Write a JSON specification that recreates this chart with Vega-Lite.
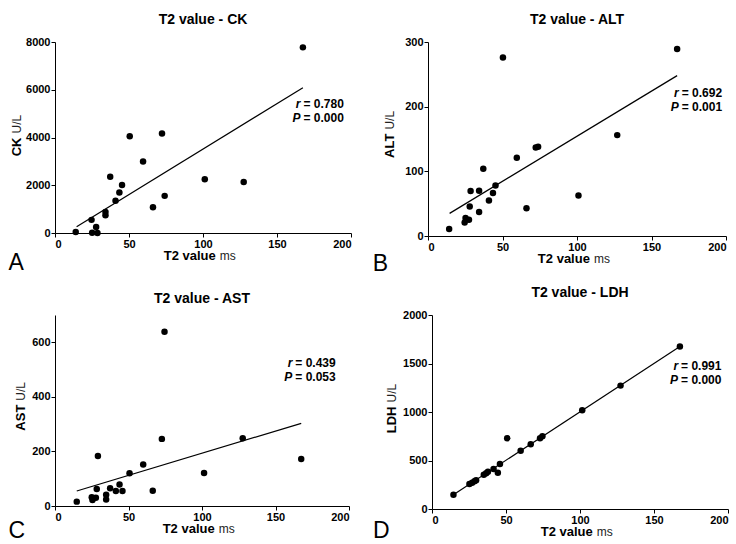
{
  "$schema": "https://vega.github.io/schema/vega-lite/v6.json",
  "background": "white",
  "padding": {"left": 8, "top": 13, "right": 0, "bottom": 0},
  "config": {
    "font": "Liberation Sans",
    "view": {"stroke": null},
    "axis": {"grid": false, "domainColor": "black", "domainWidth": 1, "tickColor": "black", "tickSize": 4, "labelColor": "black", "labelFontSize": 11, "labelFontWeight": "bold", "labelPadding": 1, "labelFont": "Liberation Sans"},
    "title": {"font": "Liberation Sans", "fontSize": 14, "fontWeight": "bold", "color": "black", "offset": 9},
    "text": {"color": "black", "baseline": "middle"}
  },
  "datasets": {
    "ck": [
      {"t2": 14, "value": 42}, {"t2": 24.7, "value": 550}, {"t2": 25.1, "value": 15}, {"t2": 27.8, "value": 255}, {"t2": 28.7, "value": 0},
      {"t2": 34.1, "value": 885}, {"t2": 34.1, "value": 745}, {"t2": 37.3, "value": 2360}, {"t2": 40.9, "value": 1350}, {"t2": 43.5, "value": 1700},
      {"t2": 45.3, "value": 2010}, {"t2": 50.5, "value": 4055}, {"t2": 59.5, "value": 2990}, {"t2": 66.2, "value": 1080}, {"t2": 72.3, "value": 4165},
      {"t2": 74.1, "value": 1555}, {"t2": 101.2, "value": 2250}, {"t2": 127.5, "value": 2140}, {"t2": 167.5, "value": 7775}
    ],
    "ck_fit": [{"t2": 14.6, "value": 266}, {"t2": 167.5, "value": 6084}],
    "alt": [
      {"t2": 14.2, "value": 11}, {"t2": 24.6, "value": 21}, {"t2": 25.2, "value": 28}, {"t2": 27.5, "value": 25}, {"t2": 28, "value": 45.7},
      {"t2": 28.6, "value": 69.5}, {"t2": 34.3, "value": 70}, {"t2": 34.3, "value": 37}, {"t2": 37.1, "value": 104}, {"t2": 40.9, "value": 55},
      {"t2": 43.6, "value": 66.5}, {"t2": 45.3, "value": 78}, {"t2": 50.3, "value": 276}, {"t2": 59.6, "value": 121}, {"t2": 66.1, "value": 43},
      {"t2": 72.3, "value": 137}, {"t2": 73.9, "value": 138}, {"t2": 101, "value": 62.6}, {"t2": 127, "value": 156}, {"t2": 167.2, "value": 289}
    ],
    "alt_fit": [{"t2": 14.5, "value": 35}, {"t2": 167.2, "value": 248}],
    "ast": [
      {"t2": 14.8, "value": 16}, {"t2": 25, "value": 32}, {"t2": 25.5, "value": 22}, {"t2": 27.8, "value": 30}, {"t2": 28.4, "value": 62},
      {"t2": 29.2, "value": 183}, {"t2": 34.8, "value": 41}, {"t2": 34.8, "value": 24}, {"t2": 37.5, "value": 65}, {"t2": 41.4, "value": 55},
      {"t2": 43.9, "value": 79}, {"t2": 45.9, "value": 55}, {"t2": 50.7, "value": 120}, {"t2": 60, "value": 152}, {"t2": 66.5, "value": 56},
      {"t2": 72.7, "value": 246}, {"t2": 74.5, "value": 639}, {"t2": 101.4, "value": 121}, {"t2": 127.7, "value": 248}, {"t2": 167.5, "value": 172}
    ],
    "ast_fit": [{"t2": 14.8, "value": 55}, {"t2": 167.5, "value": 303}],
    "ldh": [
      {"t2": 14.5, "value": 148}, {"t2": 25.3, "value": 258}, {"t2": 27.1, "value": 271}, {"t2": 28.7, "value": 285}, {"t2": 29.8, "value": 296},
      {"t2": 35, "value": 354}, {"t2": 36.6, "value": 368}, {"t2": 37.8, "value": 385}, {"t2": 41.6, "value": 412}, {"t2": 44.5, "value": 374},
      {"t2": 45.9, "value": 464}, {"t2": 50.8, "value": 729}, {"t2": 59.9, "value": 601}, {"t2": 66.7, "value": 667}, {"t2": 73, "value": 729},
      {"t2": 74.6, "value": 749}, {"t2": 101.5, "value": 1017}, {"t2": 127.4, "value": 1272}, {"t2": 167.5, "value": 1676}
    ],
    "ldh_fit": [{"t2": 14.2, "value": 145}, {"t2": 167.5, "value": 1676}]
  },
  "vconcat": [
    {
      "hconcat": [
        {
          "width": 296, "height": 191,
          "title": "T2 value - CK",
          "layer": [
            {"data": {"name": "ck"}, "mark": {"type": "circle", "size": 42, "color": "black", "opacity": 1},
             "encoding": {
               "x": {"field": "t2", "type": "quantitative", "scale": {"domain": [0, 200], "nice": false}, "axis": {"values": [0, 50, 100, 150, 200], "title": null, "format": "d"}},
               "y": {"field": "value", "type": "quantitative", "scale": {"domain": [0, 8000], "nice": false}, "axis": {"values": [0, 2000, 4000, 6000, 8000], "title": null, "format": "d"}}}},
            {"data": {"name": "ck_fit"}, "mark": {"type": "line", "color": "black", "strokeWidth": 1.2},
             "encoding": {"x": {"field": "t2", "type": "quantitative"}, "y": {"field": "value", "type": "quantitative"}}},
            {"data": {"values": [{}]}, "mark": {"type": "text", "text": "r", "fontSize": 12, "fontWeight": "bold", "fontStyle": "italic", "align": "right", "dx": -3},
             "encoding": {"x": {"datum": 167.9, "type": "quantitative"}, "y": {"datum": 5419, "type": "quantitative"}}},
            {"data": {"values": [{}]}, "mark": {"type": "text", "text": "= 0.780", "fontSize": 12, "fontWeight": "bold", "align": "left"},
             "encoding": {"x": {"datum": 167.9, "type": "quantitative"}, "y": {"datum": 5419, "type": "quantitative"}}},
            {"data": {"values": [{}]}, "mark": {"type": "text", "text": "P", "fontSize": 12, "fontWeight": "bold", "fontStyle": "italic", "align": "right", "dx": -3},
             "encoding": {"x": {"datum": 167.9, "type": "quantitative"}, "y": {"datum": 4829, "type": "quantitative"}}},
            {"data": {"values": [{}]}, "mark": {"type": "text", "text": "= 0.000", "fontSize": 12, "fontWeight": "bold", "align": "left"},
             "encoding": {"x": {"datum": 167.9, "type": "quantitative"}, "y": {"datum": 4829, "type": "quantitative"}}},
            {"data": {"values": [{}]}, "mark": {"type": "text", "text": "T2 value", "fontSize": 13, "fontWeight": "bold", "align": "right", "dx": -2},
             "encoding": {"x": {"datum": 110, "type": "quantitative"}, "y": {"datum": -963, "type": "quantitative"}}},
            {"data": {"values": [{}]}, "mark": {"type": "text", "text": "ms", "fontSize": 12, "align": "left", "dx": 2, "color": "#222"},
             "encoding": {"x": {"datum": 110, "type": "quantitative"}, "y": {"datum": -963, "type": "quantitative"}}},
            {"data": {"values": [{}]}, "mark": {"type": "text", "text": "CK", "fontSize": 13, "fontWeight": "bold", "align": "right", "angle": 270, "dx": -2},
             "encoding": {"x": {"datum": -25.5, "type": "quantitative"}, "y": {"datum": 4084, "type": "quantitative"}}},
            {"data": {"values": [{}]}, "mark": {"type": "text", "text": "U/L", "fontSize": 12, "align": "left", "angle": 270, "dx": 2, "color": "#222"},
             "encoding": {"x": {"datum": -25.5, "type": "quantitative"}, "y": {"datum": 4084, "type": "quantitative"}}},
            {"data": {"values": [{}]}, "mark": {"type": "text", "text": "A", "fontSize": 23, "align": "center"},
             "encoding": {"x": {"datum": -26.3, "type": "quantitative"}, "y": {"datum": -1257, "type": "quantitative"}}}
          ]
        },
        {
          "width": 298, "height": 194,
          "title": "T2 value - ALT",
          "layer": [
            {"data": {"name": "alt"}, "mark": {"type": "circle", "size": 42, "color": "black", "opacity": 1},
             "encoding": {
               "x": {"field": "t2", "type": "quantitative", "scale": {"domain": [0, 200], "nice": false}, "axis": {"values": [0, 50, 100, 150, 200], "title": null, "format": "d"}},
               "y": {"field": "value", "type": "quantitative", "scale": {"domain": [0, 300], "nice": false}, "axis": {"values": [0, 100, 200, 300], "title": null, "format": "d"}}}},
            {"data": {"name": "alt_fit"}, "mark": {"type": "line", "color": "black", "strokeWidth": 1.2},
             "encoding": {"x": {"field": "t2", "type": "quantitative"}, "y": {"field": "value", "type": "quantitative"}}},
            {"data": {"values": [{}]}, "mark": {"type": "text", "text": "r", "fontSize": 12, "fontWeight": "bold", "fontStyle": "italic", "align": "right", "dx": -3},
             "encoding": {"x": {"datum": 170.3, "type": "quantitative"}, "y": {"datum": 220.5, "type": "quantitative"}}},
            {"data": {"values": [{}]}, "mark": {"type": "text", "text": "= 0.692", "fontSize": 12, "fontWeight": "bold", "align": "left"},
             "encoding": {"x": {"datum": 170.3, "type": "quantitative"}, "y": {"datum": 220.5, "type": "quantitative"}}},
            {"data": {"values": [{}]}, "mark": {"type": "text", "text": "P", "fontSize": 12, "fontWeight": "bold", "fontStyle": "italic", "align": "right", "dx": -3},
             "encoding": {"x": {"datum": 170.3, "type": "quantitative"}, "y": {"datum": 199, "type": "quantitative"}}},
            {"data": {"values": [{}]}, "mark": {"type": "text", "text": "= 0.001", "fontSize": 12, "fontWeight": "bold", "align": "left"},
             "encoding": {"x": {"datum": 170.3, "type": "quantitative"}, "y": {"datum": 199, "type": "quantitative"}}},
            {"data": {"values": [{}]}, "mark": {"type": "text", "text": "T2 value", "fontSize": 13, "fontWeight": "bold", "align": "right", "dx": -2},
             "encoding": {"x": {"datum": 110, "type": "quantitative"}, "y": {"datum": -35.6, "type": "quantitative"}}},
            {"data": {"values": [{}]}, "mark": {"type": "text", "text": "ms", "fontSize": 12, "align": "left", "dx": 2, "color": "#222"},
             "encoding": {"x": {"datum": 110, "type": "quantitative"}, "y": {"datum": -35.6, "type": "quantitative"}}},
            {"data": {"values": [{}]}, "mark": {"type": "text", "text": "ALT", "fontSize": 13, "fontWeight": "bold", "align": "right", "angle": 270, "dx": -2},
             "encoding": {"x": {"datum": -25.2, "type": "quantitative"}, "y": {"datum": 161.5, "type": "quantitative"}}},
            {"data": {"values": [{}]}, "mark": {"type": "text", "text": "U/L", "fontSize": 12, "align": "left", "angle": 270, "dx": 2, "color": "#222"},
             "encoding": {"x": {"datum": -25.2, "type": "quantitative"}, "y": {"datum": 161.5, "type": "quantitative"}}},
            {"data": {"values": [{}]}, "mark": {"type": "text", "text": "B", "fontSize": 23, "align": "center"},
             "encoding": {"x": {"datum": -31.9, "type": "quantitative"}, "y": {"datum": -43.3, "type": "quantitative"}}}
          ]
        }
      ],
      "spacing": 20
    },
    {
      "hconcat": [
        {
          "width": 294, "height": 191,
          "title": "T2 value - AST",
          "layer": [
            {"data": {"name": "ast"}, "mark": {"type": "circle", "size": 42, "color": "black", "opacity": 1},
             "encoding": {
               "x": {"field": "t2", "type": "quantitative", "scale": {"domain": [0, 200], "nice": false}, "axis": {"values": [0, 50, 100, 150, 200], "title": null, "format": "d"}},
               "y": {"field": "value", "type": "quantitative", "scale": {"domain": [0, 700], "nice": false}, "axis": {"values": [0, 200, 400, 600], "title": null, "format": "d"}}}},
            {"data": {"name": "ast_fit"}, "mark": {"type": "line", "color": "black", "strokeWidth": 1.2},
             "encoding": {"x": {"field": "t2", "type": "quantitative"}, "y": {"field": "value", "type": "quantitative"}}},
            {"data": {"values": [{}]}, "mark": {"type": "text", "text": "r", "fontSize": 12, "fontWeight": "bold", "fontStyle": "italic", "align": "right", "dx": -3},
             "encoding": {"x": {"datum": 163.5, "type": "quantitative"}, "y": {"datum": 524, "type": "quantitative"}}},
            {"data": {"values": [{}]}, "mark": {"type": "text", "text": "= 0.439", "fontSize": 12, "fontWeight": "bold", "align": "left"},
             "encoding": {"x": {"datum": 163.5, "type": "quantitative"}, "y": {"datum": 524, "type": "quantitative"}}},
            {"data": {"values": [{}]}, "mark": {"type": "text", "text": "P", "fontSize": 12, "fontWeight": "bold", "fontStyle": "italic", "align": "right", "dx": -3},
             "encoding": {"x": {"datum": 163.5, "type": "quantitative"}, "y": {"datum": 474.6, "type": "quantitative"}}},
            {"data": {"values": [{}]}, "mark": {"type": "text", "text": "= 0.053", "fontSize": 12, "fontWeight": "bold", "align": "left"},
             "encoding": {"x": {"datum": 163.5, "type": "quantitative"}, "y": {"datum": 474.6, "type": "quantitative"}}},
            {"data": {"values": [{}]}, "mark": {"type": "text", "text": "T2 value", "fontSize": 13, "fontWeight": "bold", "align": "right", "dx": -2},
             "encoding": {"x": {"datum": 110, "type": "quantitative"}, "y": {"datum": -84.3, "type": "quantitative"}}},
            {"data": {"values": [{}]}, "mark": {"type": "text", "text": "ms", "fontSize": 12, "align": "left", "dx": 2, "color": "#222"},
             "encoding": {"x": {"datum": 110, "type": "quantitative"}, "y": {"datum": -84.3, "type": "quantitative"}}},
            {"data": {"values": [{}]}, "mark": {"type": "text", "text": "AST", "fontSize": 13, "fontWeight": "bold", "align": "right", "angle": 270, "dx": -2},
             "encoding": {"x": {"datum": -23, "type": "quantitative"}, "y": {"datum": 378.7, "type": "quantitative"}}},
            {"data": {"values": [{}]}, "mark": {"type": "text", "text": "U/L", "fontSize": 12, "align": "left", "angle": 270, "dx": 2, "color": "#222"},
             "encoding": {"x": {"datum": -23, "type": "quantitative"}, "y": {"datum": 378.7, "type": "quantitative"}}},
            {"data": {"values": [{}]}, "mark": {"type": "text", "text": "C", "fontSize": 23, "align": "center"},
             "encoding": {"x": {"datum": -25.9, "type": "quantitative"}, "y": {"datum": -91.6, "type": "quantitative"}}}
          ]
        },
        {
          "width": 296, "height": 194,
          "title": "T2 value - LDH",
          "layer": [
            {"data": {"name": "ldh"}, "mark": {"type": "circle", "size": 42, "color": "black", "opacity": 1},
             "encoding": {
               "x": {"field": "t2", "type": "quantitative", "scale": {"domain": [0, 200], "nice": false}, "axis": {"values": [0, 50, 100, 150, 200], "title": null, "format": "d"}},
               "y": {"field": "value", "type": "quantitative", "scale": {"domain": [0, 2000], "nice": false}, "axis": {"values": [0, 500, 1000, 1500, 2000], "title": null, "format": "d"}}}},
            {"data": {"name": "ldh_fit"}, "mark": {"type": "line", "color": "black", "strokeWidth": 1.2},
             "encoding": {"x": {"field": "t2", "type": "quantitative"}, "y": {"field": "value", "type": "quantitative"}}},
            {"data": {"values": [{}]}, "mark": {"type": "text", "text": "r", "fontSize": 12, "fontWeight": "bold", "fontStyle": "italic", "align": "right", "dx": -3},
             "encoding": {"x": {"datum": 168.3, "type": "quantitative"}, "y": {"datum": 1474, "type": "quantitative"}}},
            {"data": {"values": [{}]}, "mark": {"type": "text", "text": "= 0.991", "fontSize": 12, "fontWeight": "bold", "align": "left"},
             "encoding": {"x": {"datum": 168.3, "type": "quantitative"}, "y": {"datum": 1474, "type": "quantitative"}}},
            {"data": {"values": [{}]}, "mark": {"type": "text", "text": "P", "fontSize": 12, "fontWeight": "bold", "fontStyle": "italic", "align": "right", "dx": -3},
             "encoding": {"x": {"datum": 168.3, "type": "quantitative"}, "y": {"datum": 1330, "type": "quantitative"}}},
            {"data": {"values": [{}]}, "mark": {"type": "text", "text": "= 0.000", "fontSize": 12, "fontWeight": "bold", "align": "left"},
             "encoding": {"x": {"datum": 168.3, "type": "quantitative"}, "y": {"datum": 1330, "type": "quantitative"}}},
            {"data": {"values": [{}]}, "mark": {"type": "text", "text": "T2 value", "fontSize": 13, "fontWeight": "bold", "align": "right", "dx": -2},
             "encoding": {"x": {"datum": 110, "type": "quantitative"}, "y": {"datum": -237, "type": "quantitative"}}},
            {"data": {"values": [{}]}, "mark": {"type": "text", "text": "ms", "fontSize": 12, "align": "left", "dx": 2, "color": "#222"},
             "encoding": {"x": {"datum": 110, "type": "quantitative"}, "y": {"datum": -237, "type": "quantitative"}}},
            {"data": {"values": [{}]}, "mark": {"type": "text", "text": "LDH", "fontSize": 13, "fontWeight": "bold", "align": "right", "angle": 270, "dx": -2},
             "encoding": {"x": {"datum": -27, "type": "quantitative"}, "y": {"datum": 1077, "type": "quantitative"}}},
            {"data": {"values": [{}]}, "mark": {"type": "text", "text": "U/L", "fontSize": 12, "align": "left", "angle": 270, "dx": 2, "color": "#222"},
             "encoding": {"x": {"datum": -27, "type": "quantitative"}, "y": {"datum": 1077, "type": "quantitative"}}},
            {"data": {"values": [{}]}, "mark": {"type": "text", "text": "D", "fontSize": 23, "align": "center"},
             "encoding": {"x": {"datum": -34.2, "type": "quantitative"}, "y": {"datum": -225, "type": "quantitative"}}}
          ]
        }
      ],
      "spacing": 23
    }
  ],
  "spacing": 9
}
